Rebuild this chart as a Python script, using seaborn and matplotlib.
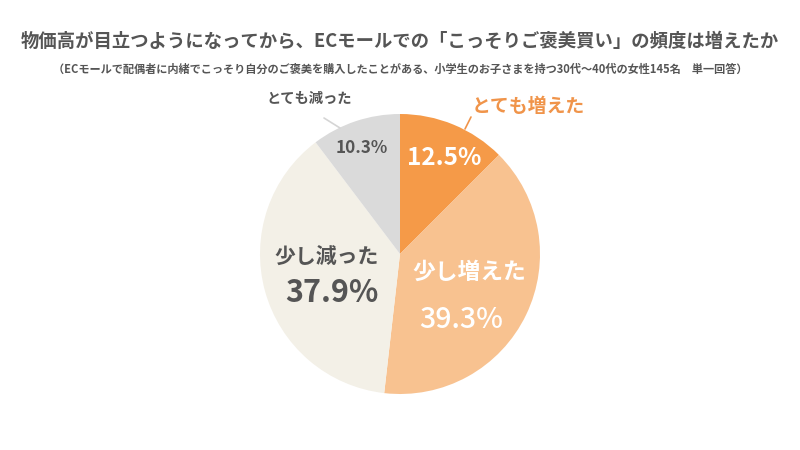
import seaborn as sns
import matplotlib.pyplot as plt

sns.set_theme(style="white")
plt.rcParams['font.family'] = ['Noto Sans CJK JP', 'DejaVu Sans']

# data
labels = ['とても増えた', '少し増えた', '少し減った', 'とても減った']
values = [12.5, 39.3, 37.9, 10.3]
colors = ['#F59A48', '#F8C290', '#F3F0E7', '#DADADA']

title = '物価高が目立つようになってから、ECモールでの「こっそりご褒美買い」の頻度は増えたか'
subtitle = '（ECモールで配偶者に内緒でこっそり自分のご褒美を購入したことがある、小学生のお子さまを持つ30代〜40代の女性145名　単一回答）'

dark = '#555555'

fig = plt.figure(figsize=(8, 4.5), dpi=100)
ax = fig.add_axes([0, 0, 1, 1])

cx, cy, r = 400, 450 - 254, 140
ax.pie(values, colors=colors, startangle=90, counterclock=False,
       center=(cx, cy), radius=r, frame=True,
       wedgeprops=dict(linewidth=0))
ax.set_xlim(0, 800)
ax.set_ylim(0, 450)
ax.axis('off')

fig.text(0.5, 1 - 41 / 450, title, ha='center', va='center',
         fontsize=13.2, fontweight='bold', color=dark)
fig.text(0.5, 1 - 69 / 450, subtitle, ha='center', va='center',
         fontsize=8.05, fontweight='bold', color=dark)

def px(x, y):
    return x, 450 - y

# とても増えた
ax.text(*px(528, 107), labels[0], ha='center', va='center', fontsize=13.6,
        fontweight='bold', color='#F0944A')
ax.plot(*zip(px(465, 129), px(471, 117)), color='#F0944A', lw=1.2)
ax.text(*px(444, 158), f'{values[0]}%', ha='center', va='center', fontsize=17.5,
        fontweight='bold', color='white')

# 少し増えた
ax.text(*px(469, 272), labels[1], ha='center', va='center', fontsize=16.4,
        fontweight='bold', color='white')
ax.text(*px(461, 319), f'{values[1]}%', ha='center', va='center', fontsize=20.5,
        fontweight='medium', color='white')

# 少し減った
ax.text(*px(327, 256), labels[2], ha='center', va='center', fontsize=15,
        fontweight='bold', color=dark)
ax.text(*px(332, 293), f'{values[2]}%', ha='center', va='center', fontsize=22,
        fontweight='bold', color=dark)

# とても減った
ax.text(*px(309, 99), labels[3], ha='center', va='center', fontsize=10.3,
        fontweight='bold', color=dark)
ax.plot(*zip(px(324, 118), px(340, 128)), color='#D5D5D5', lw=1.2)
ax.text(*px(362, 148), f'{values[3]}%', ha='center', va='center', fontsize=12.3,
        fontweight='bold', color=dark)

fig.savefig('out.png', dpi=100, facecolor='white')
